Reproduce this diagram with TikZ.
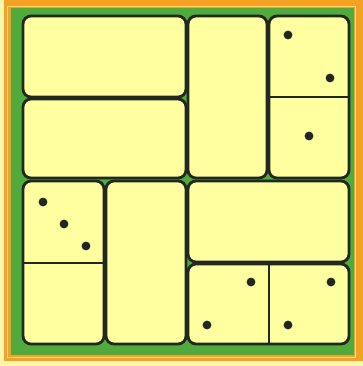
\documentclass[tikz,border=0pt]{standalone}
\usepackage{tikz}

\definecolor{paper}{RGB}{252,246,170}
\definecolor{rim}{RGB}{244,162,36}
\definecolor{baize}{RGB}{80,170,60}
\definecolor{tilefill}{RGB}{255,255,160}
\definecolor{ink}{RGB}{32,40,32}

\begin{document}
\begin{tikzpicture}[
        x=0.5pt, y=-0.5pt,
        tile/.style={draw=ink, fill=tilefill, line width=1.4pt, rounded corners=4pt},
        split/.style={draw=ink, line width=0.7pt},
        pip/.style={fill=ink}
    ]
        \useasboundingbox (0,0) rectangle (363,366);
        % frame
        \fill[paper] (0,0) rectangle (363,366);
        \fill[rim] (4,0) rectangle (363,361);
        \draw[paper!70!rim, line width=0.5pt] (8,6) rectangle (356,357);
        \fill[baize] (11,8) rectangle (354,355);

        % dominoes
        \draw[tile] (23,16) rectangle (186,97);
        \draw[tile] (23,99) rectangle (186,178);
        \draw[tile] (188,16) rectangle (267,178);
        \draw[tile] (269,16) rectangle (349,178);
        \draw[tile] (23,181) rectangle (104,344);
        \draw[tile] (106,181) rectangle (186,344);
        \draw[tile] (188,181) rectangle (349,262);
        \draw[tile] (188,264) rectangle (349,344);

        % halves
        \draw[split] (270,97) -- (348,97);
        \draw[split] (24,263) -- (103,263);
        \draw[split] (269,265) -- (269,343);

        % pips
        \foreach \px/\py in {288/35, 330/78, 309/136,
                43/202, 64/224, 86/246,
                251/282, 207/325, 331/282, 288/325}
            \fill[pip] (\px,\py) circle (2.2pt);
    \end{tikzpicture}
\end{document}
